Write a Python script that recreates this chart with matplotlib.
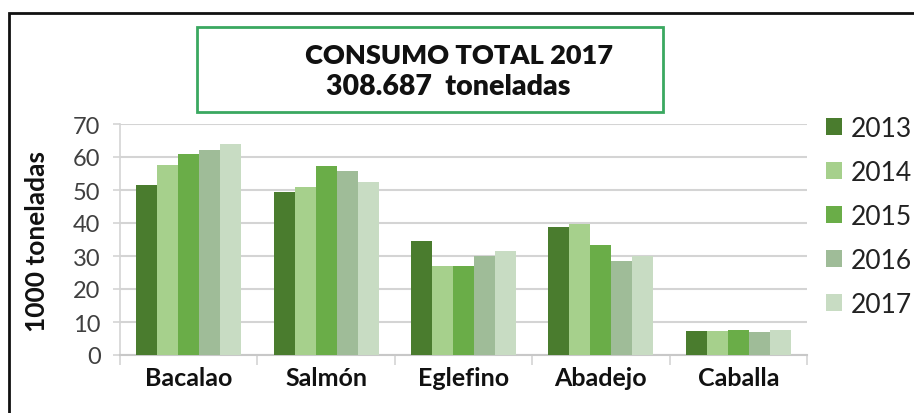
"""Consumo de pescado por especie, 2013-2017."""
import matplotlib.pyplot as plt
from matplotlib.patches import Rectangle
import numpy as np

# data
especies = ["Bacalao", "Salmón", "Eglefino", "Abadejo", "Caballa"]
anios = ["2013", "2014", "2015", "2016", "2017"]
v2013 = [51.5, 49.4, 34.5, 38.8, 7.4]
v2014 = [57.6, 50.9, 27.0, 39.7, 7.3]
v2015 = [60.9, 57.3, 27.0, 33.4, 7.5]
v2016 = [62.2, 55.8, 30.0, 28.5, 7.1]
v2017 = [63.9, 52.4, 31.5, 30.0, 7.7]
series = [v2013, v2014, v2015, v2016, v2017]
colores = ["#4a7c2e", "#a6d08c", "#6aad48", "#9fbc98", "#c8dcc3"]

plt.rcParams["font.family"] = ["Lato", "DejaVu Sans"]

W, H = 914, 414
fig = plt.figure(figsize=(W / 100, H / 100), dpi=100)
ax = fig.add_axes([120 / W, 1 - 356 / H, (807 - 120) / W, (356 - 125) / H])

x = np.arange(len(especies))
ancho = 0.153
barras = []
for i, (vals, col) in enumerate(zip(series, colores)):
    b = ax.bar(x + (i - 2) * ancho, vals, ancho, color=col, label=anios[i], zorder=3)
    barras.append(b)

ax.set_xlim(-0.5, len(especies) - 0.5)
ax.set_ylim(0, 70)
ax.set_yticks(range(0, 71, 10))
ax.yaxis.grid(True, color="#d4d4d4", linewidth=1.5, zorder=0)
ax.set_axisbelow(True)

for s in ["top", "right"]:
    ax.spines[s].set_visible(False)
ax.spines["left"].set_color("#d4d4d4")
ax.spines["bottom"].set_color("#c8c8c8")
ax.spines["left"].set_linewidth(1.2)
ax.spines["bottom"].set_linewidth(1.5)

ax.tick_params(axis="y", length=5, width=1.2, color="#d4d4d4", pad=9,
               labelsize=17, labelcolor="#404040")
ax.set_xticks(x)
ax.set_xticklabels(especies, fontsize=18, fontweight="bold", color="#111111")
ax.tick_params(axis="x", which="major", length=0, pad=8)
ax.set_xticks(np.arange(-0.5, len(especies)), minor=True)
ax.tick_params(axis="x", which="minor", length=7, width=1.2, color="#d4d4d4")

fig.text(37 / W, 1 - 242 / H, "1000 toneladas", rotation=90, ha="center",
         va="center", fontsize=19, fontweight="bold", color="#111111")

# legend
ax.legend(handles=barras, loc="upper left", bbox_to_anchor=(826 / W, 1 - 117 / H),
          bbox_transform=fig.transFigure, frameon=False, fontsize=19,
          handlelength=0.6, handleheight=0.6, handletextpad=0.35,
          labelspacing=0.72, borderaxespad=0, borderpad=0, labelcolor="#222222")

# title box and outer frame
fig.patches.append(Rectangle((197 / W, 1 - 113 / H), (663 - 197) / W, (113 - 28) / H,
                             transform=fig.transFigure, fill=False,
                             edgecolor="#3aa860", linewidth=2))
fig.patches.append(Rectangle((9 / W, -0.05), 1.0, 1 - 14 / H + 0.05,
                             transform=fig.transFigure, fill=False,
                             edgecolor="#111111", linewidth=2))
fig.text(459 / W, 1 - 56 / H, "CONSUMO TOTAL 2017", ha="center", va="center",
         fontsize=19.5, fontweight="heavy", color="#111111")
fig.text(448 / W, 1 - 87 / H, "308.687  toneladas", ha="center", va="center",
         fontsize=20.5, fontweight="heavy", color="#111111")

fig.savefig("out.png", dpi=100)
